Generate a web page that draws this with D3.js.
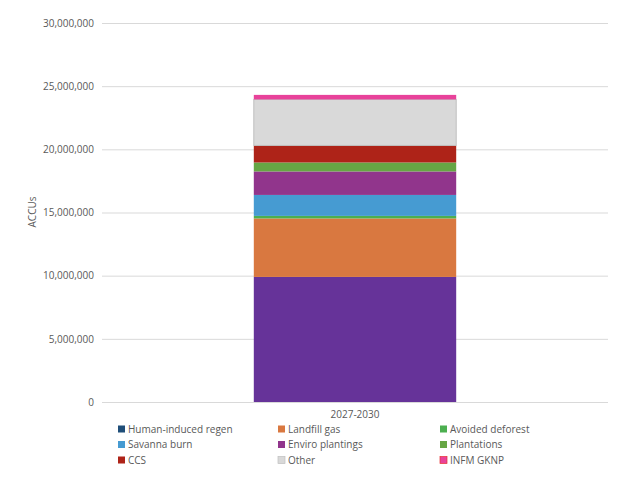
<!DOCTYPE html>
<html>
<head>
<meta charset="utf-8">
<script src="https://cdn.jsdelivr.net/npm/d3@7"></script>
<style>
body { margin: 0; background: #fff; }
text { font-family: "Open Sans", "Liberation Sans", sans-serif; }
</style>
</head>
<body>
<div id="viz"></div>
<script>
var width = 640, height = 485;

var categories = ["2027-2030"];
var seriesNames = ["Human-induced regen", "Landfill gas", "Avoided deforest", "Savanna burn",
  "Enviro plantings", "Plantations", "CCS", "Other", "INFM GKNP"];
var seriesValues = [9900000, 4630000, 200000, 1660000, 1860000, 710000, 1350000, 3640000, 360000];
var barColors = ["#663399", "#D97840", "#4CAF50", "#469BD2", "#91358C", "#66A644", "#AE2318", "#D9D9D9", "#E8429A"];
var legendColors = ["#1F4E79", "#D97840", "#4CAF50", "#469BD2", "#91358C", "#66A644", "#AE2318", "#D9D9D9", "#E8429A"];
var yTicks = [0, 5000000, 10000000, 15000000, 20000000, 25000000, 30000000];

var svg = d3.select("#viz").append("svg")
  .attr("width", width).attr("height", height);

var x = d3.scaleBand().domain(categories).range([102, 608]).paddingInner(0.6).paddingOuter(0.3);
var y = d3.scaleLinear().domain([0, 30000000]).range([402, 23]);

// gridlines
svg.append("g").selectAll("line").data(yTicks).enter().append("line")
  .attr("x1", 102).attr("x2", 608)
  .attr("y1", function (d) { return y(d) + 0.5; })
  .attr("y2", function (d) { return y(d) + 0.5; })
  .attr("stroke", "#d9d9d9");

var yAxis = svg.append("g").attr("transform", "translate(102,0)")
  .call(d3.axisLeft(y).tickValues(yTicks).tickFormat(d3.format(",")).tickSize(0).tickPadding(8));
yAxis.select(".domain").remove();
yAxis.selectAll("text").attr("fill", "#595959").style("font-size", "10px");

svg.append("text").attr("transform", "translate(36,212) rotate(-90)")
  .attr("text-anchor", "middle").attr("fill", "#595959").style("font-size", "10px").text("ACCUs");

// stacked bar
var cum = 0;
var stackData = seriesValues.map(function (v, i) {
  var s = { y0: cum, y1: cum + v, i: i };
  cum += v;
  return s;
});
svg.append("g").selectAll("rect").data(stackData).enter().append("rect")
  .attr("x", x(categories[0]))
  .attr("width", x.bandwidth())
  .attr("y", function (d) { return y(d.y1); })
  .attr("height", function (d) { return y(d.y0) - y(d.y1); })
  .attr("fill", function (d) { return barColors[d.i]; })
  .attr("stroke", function (d) { return seriesNames[d.i] === "Other" ? "#bfbfbf" : "none"; });

svg.append("text").attr("x", x(categories[0]) + x.bandwidth() / 2).attr("y", 418)
  .attr("text-anchor", "middle").attr("fill", "#595959").style("font-size", "10px").text(categories[0]);

// legend
var colX = [118, 278, 440];
var leg = svg.append("g").selectAll("g").data(seriesNames).enter().append("g")
  .attr("transform", function (d, i) { return "translate(" + colX[i % 3] + "," + (429 + Math.floor(i / 3) * 15.5) + ")"; });
leg.append("rect").attr("x", 0).attr("y", -3.5).attr("width", 7).attr("height", 7)
  .attr("fill", function (d, i) { return legendColors[i]; })
  .attr("stroke", function (d, i) { return i === 8 ? "#e83030" : (i === 7 ? "#bfbfbf" : "none"); })
  .attr("stroke-width", 0.7);
leg.append("text").attr("x", 10).attr("y", 3.5).attr("fill", "#595959").style("font-size", "10px")
  .text(function (d) { return d; });
</script>
</body>
</html>
